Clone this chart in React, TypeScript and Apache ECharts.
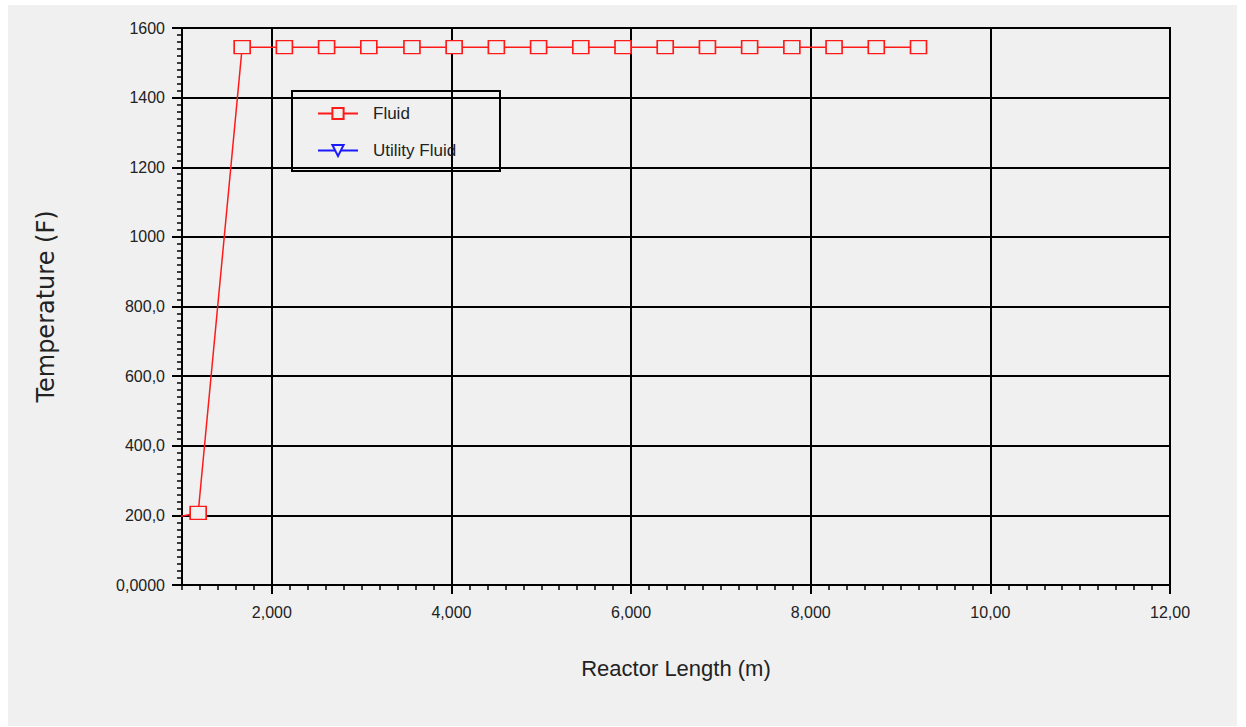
import React, { useEffect, useRef } from "react";
import * as echarts from "echarts";

const fluidLength = [0.96, 1.18, 1.67, 2.14, 2.61, 3.08, 3.56, 4.03, 4.5, 4.97, 5.44, 5.91, 6.38, 6.85, 7.32, 7.79, 8.26, 8.73, 9.2];
const fluidTemp = [196, 207, 1545, 1545, 1545, 1545, 1545, 1545, 1545, 1545, 1545, 1545, 1545, 1545, 1545, 1545, 1545, 1545, 1545];
const utilityLength: number[] = [];
const utilityTemp: number[] = [];

const xMajorTicks = [2, 4, 6, 8, 10, 12];
const xTickLabels = ["2,000", "4,000", "6,000", "8,000", "10,00", "12,00"];
const yTickValues = [0, 200, 400, 600, 800, 1000, 1200, 1400, 1600];
const yTickLabels = ["0,0000", "200,0", "400,0", "600,0", "800,0", "1000", "1200", "1400", "1600"];

const TXT = "#222";
const FONT = "Liberation Sans, Arial, sans-serif";

export default function App() {
  const ref = useRef<HTMLDivElement>(null);
  useEffect(() => {
    if (!ref.current) return;
    const chart = echarts.init(ref.current, undefined, { renderer: "svg" });
    const fluidData = fluidLength.map((x, i) => [x, fluidTemp[i]]);
    const utilData = utilityLength.map((x, i) => [x, utilityTemp[i]]);
    chart.setOption({
      animation: false,
      backgroundColor: "#f0f0f0",
      textStyle: { fontFamily: FONT },
      grid: {
        left: 174,
        top: 23,
        right: 67,
        bottom: 141,
        show: true,
        borderColor: "#000",
        borderWidth: 2,
        backgroundColor: "transparent",
        outerBoundsMode: "none",
      },
      xAxis: [
        {
          type: "value",
          min: 1,
          max: 12,
          position: "bottom",
          name: "Reactor Length (m)",
          nameLocation: "middle",
          nameGap: 72,
          nameTextStyle: { fontSize: 22, color: TXT, fontFamily: FONT },
          axisLine: { show: true, onZero: false, lineStyle: { color: "#000", width: 2 } },
          axisTick: { show: true, customValues: xMajorTicks, length: 9, lineStyle: { color: "#000", width: 2 } },
          axisLabel: {
            show: true,
            customValues: xMajorTicks,
            margin: 19,
            fontSize: 16,
            color: TXT,
            fontFamily: FONT,
            formatter: (v: number) => {
              const i = xMajorTicks.indexOf(Math.round(v));
              return i >= 0 ? xTickLabels[i] : "";
            },
          },
          splitLine: { show: true, lineStyle: { color: "#000", width: 2 } },
        },
        {
          type: "value",
          min: 1,
          max: 12,
          interval: 0.2,
          position: "bottom",
          axisLine: { show: false },
          axisTick: { show: true, length: 5, lineStyle: { color: "#000", width: 1.5 } },
          axisLabel: { show: false },
          splitLine: { show: false },
        },
      ],
      yAxis: {
        type: "value",
        min: 0,
        max: 1600,
        interval: 200,
        name: "Temperature (F)",
        nameLocation: "middle",
        nameGap: 124,
        nameTextStyle: { fontSize: 24, color: TXT, fontFamily: "DejaVu Sans, Verdana, sans-serif" },
        axisLine: { show: true, lineStyle: { color: "#000", width: 2 } },
        axisTick: { show: true, length: 10, lineStyle: { color: "#000", width: 2 } },
        minorTick: { show: true, splitNumber: 10, length: 5, lineStyle: { color: "#000", width: 1.5 } },
        axisLabel: {
          margin: 17,
          fontSize: 16,
          color: TXT,
          fontFamily: FONT,
          formatter: (v: number) => {
            const i = yTickValues.indexOf(Math.round(v));
            return i >= 0 ? yTickLabels[i] : "";
          },
        },
        splitLine: { show: true, lineStyle: { color: "#000", width: 2 } },
      },
      legend: {
        data: ["Fluid", "Utility Fluid"],
        orient: "vertical",
        left: 304,
        top: 95,
        itemWidth: 40,
        itemHeight: 14,
        itemGap: 20,
        textStyle: { fontSize: 17, color: TXT, fontFamily: FONT, padding: [0, 0, 0, 10] },
      },
      graphic: [
        {
          type: "rect",
          shape: { x: 284, y: 86, width: 208, height: 80 },
          style: { fill: "none", stroke: "#000", lineWidth: 2 },
          z: 10,
        },
      ],
      series: [
        {
          name: "Fluid",
          type: "line",
          xAxisIndex: 0,
          data: fluidData,
          symbol: "rect",
          symbolSize: [16, 13],
          showAllSymbol: true,
          lineStyle: { color: "#ff1a1a", width: 1.5 },
          itemStyle: { color: "#f0f0f0", borderColor: "#ff1a1a", borderWidth: 1.5 },
          z: 5,
        },
        {
          name: "Utility Fluid",
          type: "line",
          xAxisIndex: 0,
          data: utilData,
          symbol: "path://M0,0 L10,0 L5,9 Z",
          symbolSize: [14, 12],
          lineStyle: { color: "#1a1aff", width: 1.5 },
          itemStyle: { color: "#f0f0f0", borderColor: "#1a1aff", borderWidth: 1.5 },
        },
      ],
    });
    return () => chart.dispose();
  }, []);
  return (
    <div
      ref={ref}
      style={{ position: "absolute", left: 8, top: 5, width: 1229, height: 721 }}
    />
  );
}
